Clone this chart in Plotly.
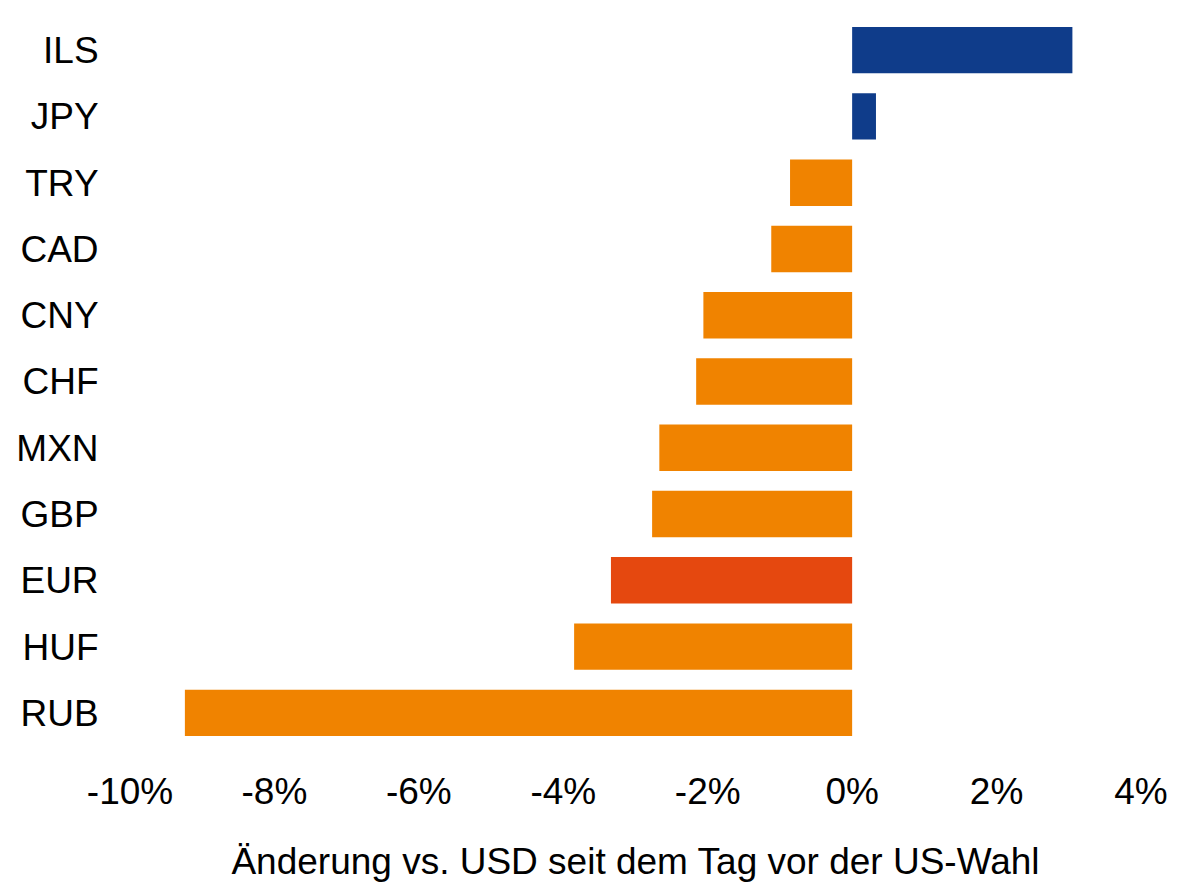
from plotly import graph_objects as go

currencies = ["ILS", "JPY", "TRY", "CAD", "CNY", "CHF", "MXN", "GBP", "EUR", "HUF", "RUB"]
changes = [3.05, 0.33, -0.86, -1.12, -2.06, -2.16, -2.67, -2.77, -3.34, -3.85, -9.24]
tick_values = [-10, -8, -6, -4, -2, 0, 2, 4]
tick_labels = ["-10%", "-8%", "-6%", "-4%", "-2%", "0%", "2%", "4%"]

BLUE = "#0f3c8a"
ORANGE = "#f08300"
RED = "#e5480f"

colors = []
for cur, val in zip(currencies, changes):
    if cur == "EUR":
        colors.append(RED)
    elif val > 0:
        colors.append(BLUE)
    else:
        colors.append(ORANGE)

fig = go.Figure(
    data=[
        go.Bar(
            x=changes,
            y=currencies,
            orientation="h",
            marker={"color": colors, "line": {"width": 0}},
        )
    ]
)
# page body adds 8px on left/top, margins account for it
fig.update_layout(
    width=1199,
    height=887,
    margin={"l": 122, "r": 66, "t": 9, "b": 149},
    paper_bgcolor="white",
    plot_bgcolor="white",
    bargap=0.3,
    showlegend=False,
    font={"family": "Liberation Sans, Arial, sans-serif", "size": 37, "color": "black"},
    xaxis={
        "range": [-10, 4],
        "tickvals": tick_values,
        "ticktext": tick_labels,
        "showgrid": False,
        "zeroline": False,
        "showline": False,
        "automargin": False,
        "ticks": "outside",
        "ticklen": 13,
        "tickcolor": "white",
        "title": {
            "text": "Änderung vs. USD seit dem Tag vor der US-Wahl",
            "standoff": 36,
            "font": {"size": 37},
        },
    },
    yaxis={
        "categoryorder": "array",
        "categoryarray": currencies[::-1],
        "showgrid": False,
        "zeroline": False,
        "showline": False,
        "automargin": False,
        "ticks": "outside",
        "ticklen": 23,
        "tickcolor": "white",
    },
)
fig.write_html("out.html")
